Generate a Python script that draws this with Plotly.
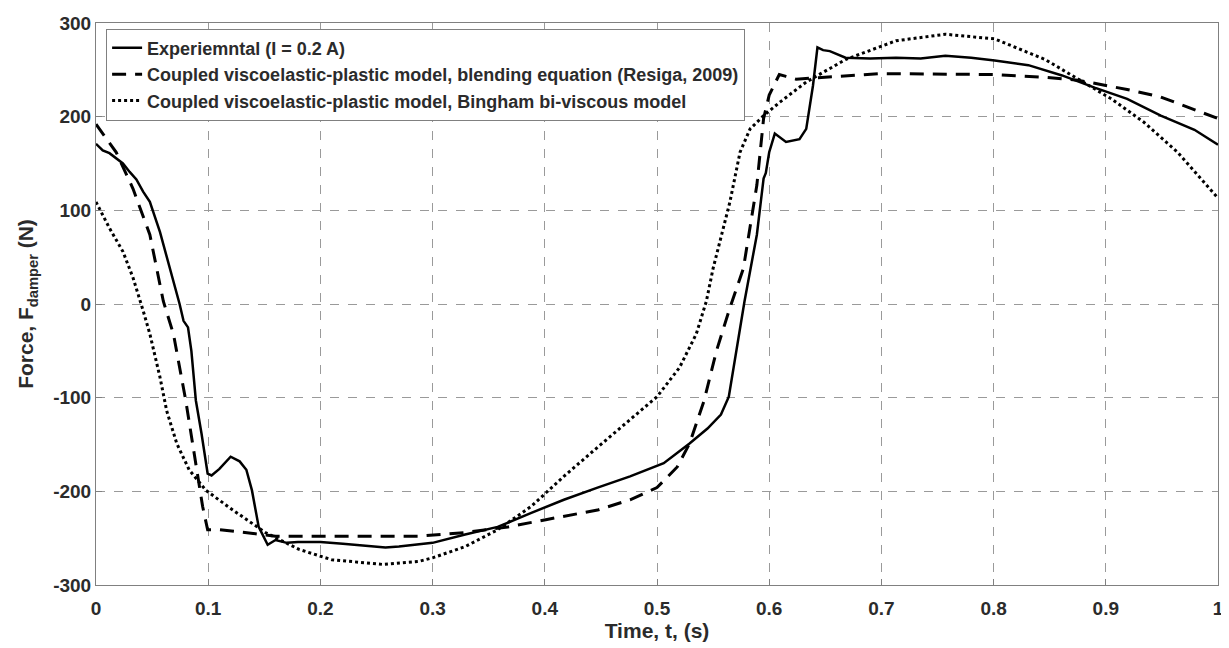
import plotly.graph_objects as go

# Experimental (I = 0.2 A)
t_exp = [0.0, 0.006, 0.012, 0.018, 0.024, 0.030, 0.036, 0.042, 0.048, 0.057, 0.066, 0.0745,
         0.078, 0.082, 0.085, 0.089, 0.094, 0.0995, 0.103, 0.110, 0.120, 0.128, 0.134, 0.139,
         0.145, 0.153, 0.160, 0.170, 0.180, 0.200, 0.220, 0.240, 0.258, 0.270, 0.287, 0.300,
         0.329, 0.358, 0.388, 0.417, 0.447, 0.476, 0.506, 0.529, 0.545, 0.557, 0.564, 0.571, 0.578,
         0.589, 0.595, 0.597, 0.600, 0.605, 0.615, 0.627, 0.633, 0.639, 0.643, 0.648, 0.654,
         0.668, 0.690, 0.713, 0.735, 0.757, 0.780, 0.801, 0.831, 0.861, 0.890, 0.919, 0.949,
         0.979, 1.0]
f_exp = [171, 164, 161, 155, 150, 141, 133, 120, 109, 77, 38, 0,
         -18, -25, -50, -103, -138, -181, -183, -176, -163, -168, -177, -199,
         -238, -257, -252, -255, -254, -254, -256, -258, -260, -259, -257, -255,
         -246, -238, -223, -209, -196, -184, -170, -149, -133, -118, -99, -50, 3,
         74, 134, 140, 162, 182, 173, 176, 187, 233, 274, 271, 270,
         263, 262, 263, 262, 265, 263, 260, 255, 244, 231, 219, 201,
         186, 170]

# Coupled viscoelastic-plastic model, blending equation
t_bl = [0.0, 0.018, 0.033, 0.048, 0.060, 0.069, 0.080, 0.089, 0.095, 0.0995, 0.110, 0.140,
        0.160, 0.200, 0.287, 0.329, 0.367, 0.402, 0.447, 0.476, 0.500, 0.518, 0.529, 0.542,
        0.553, 0.565, 0.577, 0.589, 0.595, 0.600, 0.609, 0.615, 0.624, 0.700, 0.800, 0.846,
        0.875, 0.919, 0.949, 1.0]
f_bl = [192, 162, 123, 74, 3, -32, -103, -174, -216, -241, -241, -245,
        -248, -248, -248, -244, -238, -230, -220, -209, -196, -174, -149, -103,
        -50, -4, 38, 127, 198, 223, 245, 243, 240, 246, 245, 242,
        239, 229, 221, 198]

# Coupled viscoelastic-plastic model, Bingham bi-viscous model
t_bi = [0.0, 0.012, 0.024, 0.033, 0.042, 0.048, 0.057, 0.063, 0.072, 0.083, 0.098, 0.122,
        0.151, 0.181, 0.210, 0.255, 0.287, 0.300, 0.329, 0.358, 0.388, 0.417, 0.447, 0.476,
        0.500, 0.520, 0.535, 0.544, 0.550, 0.565, 0.574, 0.583, 0.595, 0.609, 0.633, 0.668,
        0.713, 0.757, 0.801, 0.846, 0.875, 0.905, 0.934, 0.964, 1.0]
f_bi = [109, 81, 56, 28, -7, -32, -78, -114, -149, -177, -199, -220,
        -244, -262, -273, -278, -275, -271, -259, -241, -216, -184, -153, -124,
        -99, -68, -32, 3, 38, 109, 162, 187, 201, 215, 237, 261,
        281, 288, 283, 261, 240, 219, 194, 162, 113]

x_ticks = [0, 0.1, 0.2, 0.3, 0.4, 0.5, 0.6, 0.7, 0.8, 0.9, 1]
x_labels = ["0", "0.1", "0.2", "0.3", "0.4", "0.5", "0.6", "0.7", "0.8", "0.9", "1"]
y_ticks = [-300, -200, -100, 0, 100, 200, 300]
y_labels = ["-300", "-200", "-100", "0", "100", "200", "300"]

names = ["Experiemntal (I = 0.2 A)",
         "Coupled viscoelastic-plastic model, blending equation (Resiga, 2009)",
         "Coupled viscoelastic-plastic model, Bingham bi-viscous model"]

fig = go.Figure()
fig.add_trace(go.Scatter(x=t_exp, y=f_exp, mode="lines", name=names[0],
                         line=dict(color="black", width=2.5)))
fig.add_trace(go.Scatter(x=t_bl, y=f_bl, mode="lines", name=names[1],
                         line=dict(color="black", width=3, dash="14px,9px")))
fig.add_trace(go.Scatter(x=t_bi, y=f_bi, mode="lines", name=names[2],
                         line=dict(color="black", width=3, dash="3px,3px")))

font = "Liberation Sans"
tc = "#2b2b2b"
axis_common = dict(
    showline=True, mirror=True, linecolor="#808080", linewidth=1,
    ticks="inside", ticklen=6, tickcolor="#808080",
    showgrid=True, gridcolor="#9a9a9a", gridwidth=1, griddash="dash",
    zeroline=False, ticklabeloverflow="allow",
    tickfont=dict(family=font, size=19, color=tc, weight="bold"),
)
fig.update_xaxes(range=[0, 1], tickvals=x_ticks, ticktext=x_labels, ticklabelstandoff=6,
                 title=dict(text="Time, t, (s)", font=dict(family=font, size=21, color=tc, weight="bold"), standoff=3),
                 **axis_common)
fig.update_yaxes(range=[-300, 300], tickvals=y_ticks, ticktext=y_labels,
                 title=dict(text="Force, F<sub>damper</sub> (N)", font=dict(family=font, size=21, color=tc, weight="bold"), standoff=13),
                 **axis_common)

fig.update_layout(
    width=1221, height=640,
    margin=dict(l=88, r=5, t=12, b=63),
    plot_bgcolor="white", paper_bgcolor="white",
    font=dict(family=font, color=tc),
    showlegend=True,
    legend=dict(x=0.009, y=0.99, xanchor="left", yanchor="top",
                bgcolor="white", bordercolor="#808080", borderwidth=1,
                font=dict(family=font, size=18, color=tc, weight="bold"),
                tracegroupgap=0, itemwidth=30),
)
fig.write_html("out.html")
